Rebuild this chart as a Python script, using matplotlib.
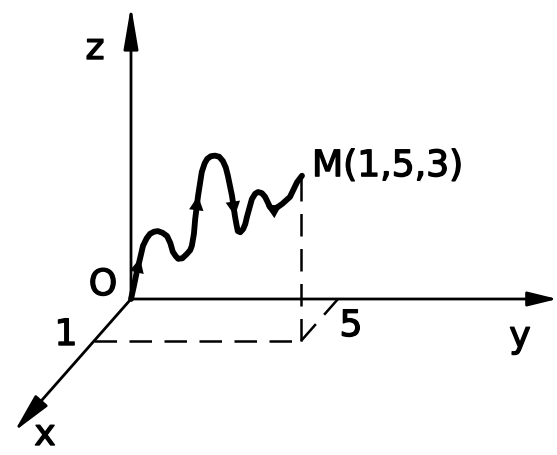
import numpy as np
import matplotlib
matplotlib.use('Agg')
from matplotlib import pyplot as plt
import matplotlib.patheffects as pe

# oblique projection of the 3D frame (picture units, y down)
origin = np.array([131.0, 300.0])
ex = np.array([-37.0, 42.0])   # one unit along x
ey = np.array([41.4, 0.0])     # one unit along y
ez = np.array([0.0, -54.3])    # one unit along z

# axis lengths in units
x_len, y_len, z_len = 3.15, 10.3, 5.4

# the point and its labels
M = (1, 5, 3)
M_label = 'M(1,5,3)'
tick_x_label = '1'
tick_y_label = '5'

path_y = [0.00, 0.07, 0.14, 0.22, 0.29, 0.38, 0.46, 0.56, 0.65, 0.76, 0.87, 0.95,
          1.01, 1.08, 1.14, 1.24, 1.35, 1.43, 1.47, 1.52, 1.55, 1.62, 1.71, 1.78,
          1.84, 1.93, 2.03, 2.13, 2.22, 2.29, 2.34, 2.44, 2.51, 2.55, 2.58, 2.64,
          2.71, 2.76, 2.80, 2.92, 3.00, 3.07, 3.16, 3.24, 3.36, 3.48, 3.65, 3.84,
          4.01, 4.13]
path_z = [0.00, 0.24, 0.50, 0.75, 0.98, 1.12, 1.20, 1.24, 1.25, 1.22, 1.16, 1.03,
          0.87, 0.79, 0.74, 0.75, 0.83, 0.90, 0.98, 1.20, 1.47, 1.90, 2.34, 2.50,
          2.58, 2.63, 2.64, 2.62, 2.54, 2.42, 2.27, 1.90, 1.53, 1.36, 1.25, 1.23,
          1.29, 1.38, 1.51, 1.84, 1.94, 1.97, 1.95, 1.88, 1.69, 1.66, 1.75, 1.88,
          2.15, 2.27]
arrow_idx = [2, 20, 31, 45]


def proj(x, y, z):
    return origin + x * ex + y * ey + z * ez


fig = plt.figure(figsize=(5.57, 4.56), dpi=100)
ax = fig.add_axes([0, 0, 1, 1])
ax.set_xlim(0, 557)
ax.set_ylim(456, 0)
ax.axis('off')

# axes with arrowheads
heads = ['-|>,head_length=1.2,head_width=0.25',
         '-|>,head_length=0.9,head_width=0.22',
         '-|>,head_length=1.3,head_width=0.22']
for end, hs in zip([proj(x_len, 0, 0), proj(0, y_len, 0), proj(0, 0, z_len)], heads):
    ax.annotate('', xy=end, xytext=origin,
                arrowprops=dict(arrowstyle=hs, mutation_scale=20, lw=2.0,
                                color='black', shrinkA=0, shrinkB=0))

# dashed construction lines
P100 = proj(M[0], 0, 0)
P150 = proj(M[0], M[1], 0)
P050 = proj(0, M[1], 0)
Pm = proj(*M)
for a, b in [(P100, P150), (P150, P050), (P150, Pm)]:
    ax.plot([a[0], b[0]], [a[1], b[1]], color='black', lw=1.8,
            linestyle=(0, (9, 5)))

# wavy path
pts = np.array([origin + yy * ey + zz * ez for yy, zz in zip(path_y, path_z)])
ax.plot(pts[:, 0], pts[:, 1], color='black', lw=4.2,
        solid_joinstyle='round', solid_capstyle='round')
for i in arrow_idx:
    ax.annotate('', xy=pts[i + 1], xytext=pts[i],
                arrowprops=dict(arrowstyle='-|>,head_length=0.8,head_width=0.4',
                                mutation_scale=13, lw=0, color='black',
                                shrinkA=0, shrinkB=0))

fs = 26
bold = [pe.withStroke(linewidth=1.0, foreground='black')]
kw = dict(fontsize=fs, ha='center', va='center', path_effects=bold)
ax.text(95, 50, 'z', **kw)
ax.text(origin[0] - 28, origin[1] - 14, 'O', **kw)
ax.text(P100[0] - 28, P100[1] - 6, tick_x_label, **kw)
ax.text(P050[0] + 13, P050[1] + 27, tick_y_label, **kw)
ax.text(520, 338, 'y', **kw)
ax.text(45, 436, 'x', **kw)
ax.text(Pm[0] + 11, Pm[1] - 12, M_label, fontsize=fs, ha='left', va='center',
        path_effects=bold)

fig.savefig('out.png', dpi=100)
